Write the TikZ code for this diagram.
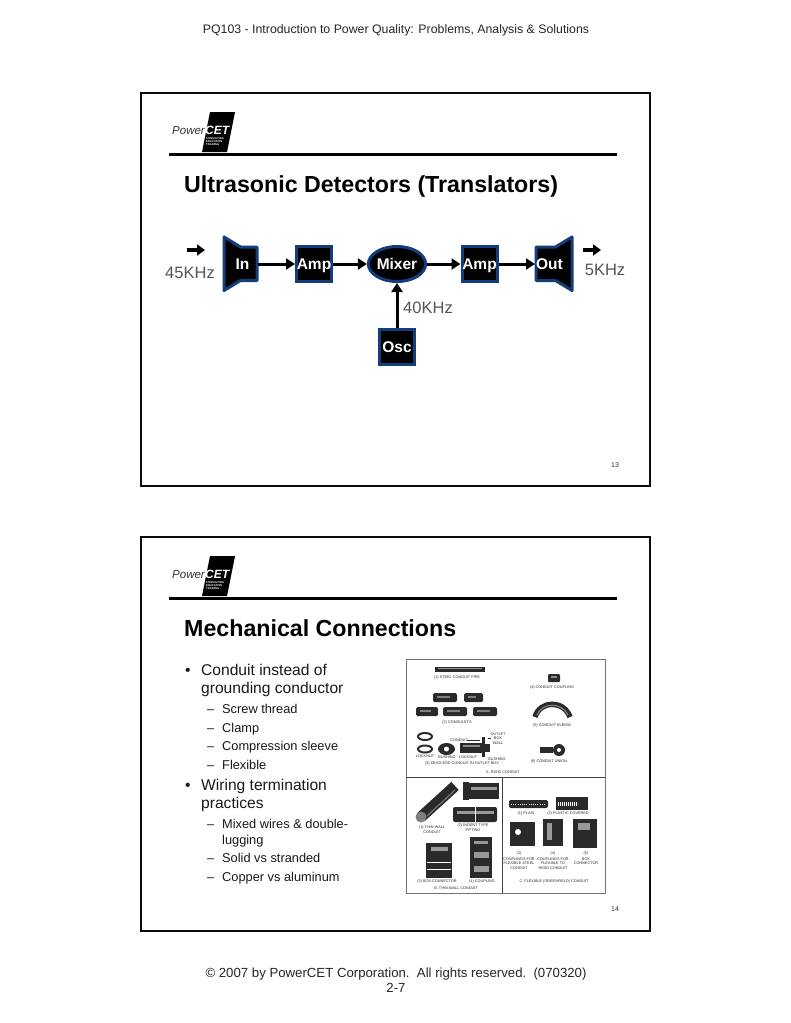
\documentclass[tikz,border=0pt]{standalone}
\usepackage{fontspec}
\setmainfont{Liberation Sans}
\usetikzlibrary{shapes.geometric,arrows.meta}
\definecolor{blk}{HTML}{0A0A0A}
\definecolor{navy}{HTML}{123E7C}
\definecolor{gr}{HTML}{555555}
\definecolor{pic}{HTML}{2A2A2A}
\tikzset{x=1pt,y=-1pt,
 slide/.style={draw=blk,line width=1.3pt},
 rulebar/.style={draw=black,line width=3pt},
 ttl/.style={anchor=base west,inner sep=0,font=\fontsize{23.2}{24}\selectfont\bfseries},
 hdr/.style={anchor=base,inner sep=0,font=\fontsize{12.33}{13}\selectfont,text=black!85},
 ftr/.style={anchor=base,inner sep=0,font=\fontsize{13.2}{14}\selectfont,text=black!85},
 blockb/.style={draw=navy,fill=black,line width=3pt,minimum width=35pt,minimum height=35pt,inner sep=0,text=white,text height=11pt,text depth=0pt,font=\fontsize{15.5}{16}\selectfont\bfseries},
 horn/.style={draw=navy,fill=black,line width=3pt,line join=round},
 hornt/.style={inner sep=0,text=white,text height=11pt,text depth=0pt,font=\fontsize{15.5}{16}\selectfont\bfseries},
 lbl/.style={inner sep=0,text=gr,font=\fontsize{16.5}{17}\selectfont},
 conn/.style={draw=black,line width=3pt,-{Triangle[length=9pt,width=11pt]}},
 wave/.style={draw=black,line width=3.2pt,-{Triangle[length=8pt,width=11pt]}},
 pg/.style={inner sep=0,font=\fontsize{7}{8}\selectfont,text=black!80},
 bl/.style={anchor=base west,inner sep=0,font=\fontsize{15.6}{16}\selectfont,text=black!90},
 sb/.style={anchor=base west,inner sep=0,font=\fontsize{12.8}{14}\selectfont,text=black!90},
 tiny/.style={inner sep=0,align=center,text=pic,font=\fontsize{3.8}{4.6}\selectfont},
 partd/.style={fill=pic,draw=none},
 partl/.style={fill=black!40,draw=none},
}
\newcommand{\pclogo}[2]{%
 \begin{scope}[shift={(#1,#2)}]
 \fill[black] (210,112) -- (235,112) -- (227,152) -- (202,152) -- cycle;
 \node[inner sep=0,anchor=base west,font=\fontsize{11.5}{12}\selectfont\itshape,text=black!80] at (172,134) {Power};
 \node[inner sep=0,anchor=base west,font=\fontsize{12}{12}\selectfont\bfseries\itshape,text=white] at (205,134) {CET};
 \node[inner sep=0,align=left,anchor=north west,font=\fontsize{2.7}{3.3}\selectfont\bfseries,text=white] at (206,137) {CONSULTING\\EDUCATION\\TRAINING};
 \end{scope}}
\begin{document}
\begin{tikzpicture}
\useasboundingbox (0,0) rectangle (791,1023);
\fill[white] (0,0) rectangle (791,1023);
\node[hdr] (header) at (396,33) {PQ103 - Introduction to Power Quality: Problems, Analysis \& Solutions};
\node[ftr] (footA) at (396,977) {© 2007 by PowerCET Corporation.\ \ All rights reserved.\ \ (070320)};
\node[ftr] (footB) at (396,992) {2-7};
% slide 1
\draw[slide] (141,93) rectangle (650,486);
\pclogo{0}{0}
\draw[rulebar] (169,154) -- (617,154);
\node[ttl] (t1) at (184,192) {Ultrasonic Detectors (Translators)};
\node[pg] (p13) at (615,465) {13};
\draw[horn] (224,237) -- (240.5,247) -- (257,247) -- (257,280.5) -- (240.5,280.5) -- (224,290.5) -- cycle;
\draw[horn] (572,237) -- (555.5,247) -- (536,247) -- (536,280.5) -- (555.5,280.5) -- (572,290.5) -- cycle;
\node[hornt] (in) at (242.5,264) {In};
\node[hornt] (out) at (549.5,264) {Out};
\node[blockb] (a1) at (314,264) {Amp};
\node[blockb,ellipse,minimum width=54pt,minimum height=35pt] (mix) at (397,264) {Mixer};
\node[blockb] (a2) at (479.5,264) {Amp};
\node[blockb] (osc) at (397,347) {Osc};
\coordinate (inr) at (258,264);
\coordinate (outl) at (535,264);
\draw[conn] (inr) -- (a1.west);
\draw[conn] (a1.east) -- (mix.west);
\draw[conn] (mix.east) -- (a2.west);
\draw[conn] (a2.east) -- (outl);
\draw[conn] (osc.north) -- (mix.south);
\coordinate (w1a) at (187,250); \coordinate (w1b) at (205,250);
\coordinate (w2a) at (583,250); \coordinate (w2b) at (601,250);
\draw[wave] (w1a) -- (w1b);
\draw[wave] (w2a) -- (w2b);
\node[lbl] (f1) at (190,273) {45KHz};
\node[lbl] (f2) at (605,270) {5KHz};
\node[lbl] (f3) at (428,308) {40KHz};
% slide 2
\draw[slide] (141,537) rectangle (650,931);
\pclogo{0}{444}
\draw[rulebar] (169,598) -- (617,598);
\node[ttl] (t2) at (184,636) {Mechanical Connections};
\node[pg] (p14) at (615,909) {14};
\node[bl] at (185,675) {•};
\node[bl] at (201,675) {Conduit instead of};
\node[bl] at (201,693) {grounding conductor};
\node[sb] at (207,713) {–}; \node[sb] at (222,713) {Screw thread};
\node[sb] at (207,732) {–}; \node[sb] at (222,732) {Clamp};
\node[sb] at (207,750) {–}; \node[sb] at (222,750) {Compression sleeve};
\node[sb] at (207,769) {–}; \node[sb] at (222,769) {Flexible};
\node[bl] at (185,790) {•};
\node[bl] at (201,790) {Wiring termination};
\node[bl] at (201,808) {practices};
\node[sb] at (207,828) {–}; \node[sb] at (222,828) {Mixed wires \& double-};
\node[sb] at (222,844) {lugging};
\node[sb] at (207,862) {–}; \node[sb] at (222,862) {Solid vs stranded};
\node[sb] at (207,881) {–}; \node[sb] at (222,881) {Copper vs aluminum};
% photo panel
\draw[black!55,line width=.7pt] (406,659) rectangle (605,893);
\draw[black!75,line width=.8pt] (406,777) -- (605,777) (502,777) -- (502,893);
% rigid conduit
\fill[partd] (435,667) rectangle (485,672);
\draw[black!40,line width=.6pt] (438,668.5) -- (482,668.5);
\node[tiny] at (457,678) {(1) STEEL CONDUIT PIPE};
\fill[partd,rounded corners=1pt] (548,674) rectangle (560,682);
\fill[black!45] (551,676) rectangle (557,678);
\node[tiny] at (552,688) {(4) CONDUIT COUPLING};
\foreach \a/\b/\w in {433/697.5/24,464/697.5/19,416/711.5/22,443/711.5/24,473/711.5/24}{
  \fill[partd,rounded corners=1.5pt] (\a,\b-4.5) rectangle (\a+\w,\b+4.5);
  \fill[black!50] (\a+4,\b-2) rectangle (\a+\w-7,\b);}
\node[tiny] at (457,723) {(2) CONDULETS};
\draw[pic,line width=5.5pt] (535,717) .. controls (540,700) and (564,700) .. (570,717);
\draw[black!45,line width=1pt] (537,715) .. controls (542,702) and (562,702) .. (568,715);
\node[tiny] at (552,726) {(5) CONDUIT ELBOW};
\draw[pic,line width=2pt] (425,736.5) ellipse (7pt and 3.5pt);
\draw[pic,line width=2pt] (425,749) ellipse (7pt and 3.5pt);
\fill[partd] (446.5,749) ellipse (8.5pt and 6pt);
\fill[white] (446.5,749) circle (2.5pt);
\fill[partd] (460,743) rectangle (485,753);
\fill[black!45] (463,745) rectangle (480,747);
\fill[partd] (482,737) rectangle (485,757);
\fill[partd] (485,744) rectangle (490,752);
\draw[pic,line width=.5pt] (467,740) -- (480,740) (488,738) -- (491,738);
\node[tiny] at (459,740) {CONDUIT};
\node[tiny] at (498,738.5) {OUTLET\\BOX\\WALL};
\node[tiny] at (425,756.5) {LOCKNUT};
\node[tiny] at (447,757.5) {BUSHING};
\node[tiny] at (468,757.5) {LOCKNUT};
\node[tiny] at (497,759) {BUSHING};
\node[tiny] at (462,764) {(3) DEAD-END CONDUIT IN OUTLET BOX};
\fill[partd] (540,747) rectangle (553,753);
\fill[partd] (559,750) circle (6pt);
\fill[white] (559,750) circle (2pt);
\node[tiny] at (549,762) {(6) CONDUIT UNION};
\node[tiny] at (503,772.5) {A.  RIGID CONDUIT};
% thin wall
\draw[pic,line width=11pt] (421,817) -- (455,786);
\fill[black!50] (421,817) circle (5.5pt);
\draw[black!50,line width=1pt] (427,816) -- (455,790);
\fill[partd] (465,783) rectangle (499,799);
\fill[partd] (463,782) rectangle (469,800);
\fill[partl] (471,787) rectangle (497,790);
\fill[partd,rounded corners=2pt] (453,807) rectangle (497,822);
\fill[partl] (457,811) rectangle (494,814);
\draw[white,line width=.6pt] (475,807) -- (475,822);
\node[tiny] at (432,829.5) {(1) THIN-WALL\\CONDUIT};
\node[tiny] at (473,827.5) {(2) INDENT TYPE\\FITTING};
\fill[partd] (426,843) rectangle (452,878);
\fill[partl] (431,847) rectangle (448,851);
\draw[white,line width=.6pt] (427,862) -- (451,862) (427,869) -- (451,869);
\fill[partd] (470,837) rectangle (492,878);
\fill[partl] (474,841) rectangle (488,844);
\fill[partl] (474,852) rectangle (489,858);
\fill[partl] (474,866) rectangle (489,872);
\node[tiny] at (437,882) {(3) BOX CONNECTOR};
\node[tiny] at (482,882) {(4) COUPLING};
\node[tiny] at (456,888) {B. THIN-WALL CONDUIT};
% flexible
\fill[partd,rounded corners=2pt] (509,800) rectangle (548,808);
\draw[white,line width=.8pt,dash pattern=on 1pt off 1.2pt] (511,804) -- (546,804);
\fill[partd] (556,797) rectangle (588,810);
\draw[white,line width=4pt,dash pattern=on .8pt off 1.2pt] (558,803.5) -- (578,803.5);
\node[tiny] at (526,813.5) {(1) PLAIN};
\node[tiny] at (568,813.5) {(2) PLASTIC COVERED};
\fill[partd] (510,822) rectangle (535,846);
\fill[white] (518,832) circle (3pt);
\fill[partd] (543,819) rectangle (563,846);
\fill[partl] (547,823) rectangle (552,840);
\fill[partd] (573,819) rectangle (597,848);
\fill[partl] (578,823) rectangle (590,830);
\node[tiny] at (519,860.5) {(3)\\[1pt]COUPLINGS FOR\\FLEXIBLE STEEL\\CONDUIT};
\node[tiny] at (553,860.5) {(4)\\[1pt]COUPLINGS FOR\\FLEXIBLE TO\\RIGID CONDUIT};
\node[tiny] at (586,858.5) {(5)\\[1pt]BOX\\CONNECTOR};
\node[tiny] at (554,882) {C. FLEXIBLE (GREENFIELD) CONDUIT};
\end{tikzpicture}
\end{document}
